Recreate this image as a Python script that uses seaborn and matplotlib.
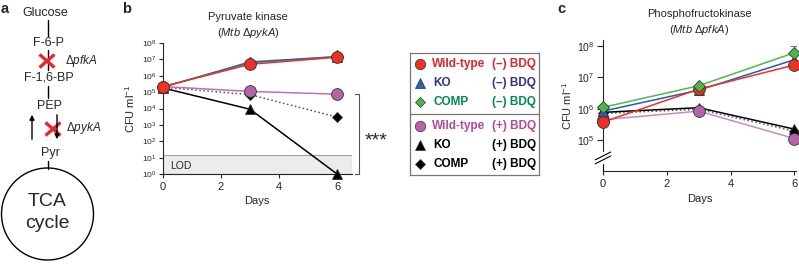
import matplotlib
matplotlib.use("Agg")
import matplotlib.pyplot as plt
import matplotlib.ticker as mticker
from matplotlib.patches import Circle, Rectangle
import seaborn as sns

sns.set_style("ticks")
plt.rcParams['font.family'] = ['Liberation Sans', 'DejaVu Sans']
plt.rcParams['mathtext.fontset'] = 'custom'
plt.rcParams['mathtext.rm'] = 'Liberation Sans'
plt.rcParams['mathtext.it'] = 'Liberation Sans:italic'

# data
days = [0, 3, 6]

# panel b: pyruvate kinase (Mtb dpykA), CFU/ml
b_wt_minus = [2.2e5, 5.0e6, 1.35e7]
b_ko_minus = [2.0e5, 7.0e6, 1.45e7]
b_comp_minus = [2.1e5, 6.0e6, 1.5e7]
b_wt_plus = [2.2e5, 1.1e5, 7.5e4]
b_ko_plus = [1.8e5, 9.0e3, 1.0e0]
b_comp_plus = [2.0e5, 7.0e4, 3.0e3]
lod = 15

# panel c: phosphofructokinase (Mtb dpfkA), CFU/ml
c_wt_minus = [3.7e5, 4.2e6, 2.5e7]
c_ko_minus = [8.3e5, 3.9e6, 3.7e7]
c_comp_minus = [1.1e6, 5.4e6, 6.2e7]
c_comp_minus_err = [0, 0, 3.8e7]
c_wt_plus = [4.4e5, 8.3e5, 1.1e5]
c_ko_plus = [7.6e5, 1.07e6, 2.2e5]
c_comp_plus = [7.0e5, 9.5e5, 1.9e5]

RED, BLUE, GREEN, PURPLE = '#ee3124', '#2a62b3', '#4cb848', '#b565a7'
RED_T, BLUE_T, GREEN_T, PURPLE_T = '#d9252b', '#2e3192', '#00894a', '#b5479b'

W, H = 799, 264
fig = plt.figure(figsize=(W / 100, H / 100), dpi=100)


def px_axes(x0, y0, x1, y1):
    # axes from pixel box (top-left origin)
    return fig.add_axes([x0 / W, 1 - y1 / H, (x1 - x0) / W, (y1 - y0) / H])


# ---------- panel a: pathway sketch ----------
axa = fig.add_axes([0, 0, 110 / W, 1])
axa.set_xlim(0, 110)
axa.set_ylim(H, 0)
axa.axis('off')
fs_a = 9
axa.text(0.5, 9, 'a', fontsize=10.5, fontweight='bold', va='center')
axa.text(45, 13, 'Glucose', fontsize=fs_a, ha='center', va='center')
axa.plot([48, 48], [20, 36], color='k', lw=1)
axa.text(49, 43, 'F-6-P', fontsize=fs_a, ha='center', va='center')
axa.plot([48, 48], [50, 70], color='k', lw=1)
axa.text(49, 78, 'F-1,6-BP', fontsize=fs_a, ha='center', va='center')
axa.plot([48, 48], [86, 98], color='k', lw=1)
axa.text(50, 106, 'PEP', fontsize=fs_a, ha='center', va='center')
axa.annotate('', xy=(32, 112), xytext=(32, 142),
             arrowprops=dict(arrowstyle='-|>', color='k', lw=1, mutation_scale=7))
axa.annotate('', xy=(57, 142), xytext=(57, 112),
             arrowprops=dict(arrowstyle='-|>', color='k', lw=1, mutation_scale=7))
axa.text(50, 153, 'Pyr', fontsize=fs_a, ha='center', va='center')
axa.plot([48, 48], [161, 169], color='k', lw=1)
for cx, cy in [(47, 61), (53, 129)]:
    axa.plot([cx - 7.5, cx + 7.5], [cy - 6.5, cy + 6.5], color='#e8262b', lw=2.4, solid_capstyle='butt')
    axa.plot([cx - 7.5, cx + 7.5], [cy + 6.5, cy - 6.5], color='#e8262b', lw=2.4, solid_capstyle='butt')
axa.text(65, 61, r'$\Delta$$\it{pfkA}$', fontsize=8.5, va='center')
axa.text(66, 128, r'$\Delta$$\it{pykA}$', fontsize=8.5, va='center')
axa.add_patch(Circle((47.5, 214), 46, fill=False, ec='k', lw=1))
axa.text(47.5, 201, 'TCA', fontsize=14, ha='center', va='center')
axa.text(47.5, 224, 'cycle', fontsize=14, ha='center', va='center')


def series(ax, y, color, marker, ms, ls='-', lc=None, z=2):
    sns.lineplot(x=days, y=y, ax=ax, color=lc or color, marker=marker, markersize=ms,
                 markerfacecolor=color, markeredgecolor='#333333', markeredgewidth=0.6,
                 linestyle=ls, lw=1.1, clip_on=False, zorder=z)


# ---------- panel b ----------
axb = px_axes(163, 43, 351.6, 174)
axb.set_yscale('log')
axb.set_ylim(1, 1e8)
axb.set_xlim(0, 6.5)
axb.add_patch(Rectangle((0, 1), 6.5, lod - 1, fc='#ececec', ec='#a0a0a0', lw=0.8, zorder=1))
axb.text(0.25, 3.2, 'LOD', fontsize=7.5, va='center')
series(axb, b_comp_plus, 'k', 'D', 5.5, ls=':', lc='#555555', z=3)
series(axb, b_ko_plus, 'k', '^', 7.5, z=3)
series(axb, b_wt_plus, PURPLE, 'o', 8.5, lc='#c070b5', z=4)
series(axb, b_comp_minus, GREEN, 'D', 6, lc=GREEN, z=5)
series(axb, b_ko_minus, BLUE, '^', 7.5, z=6)
series(axb, b_wt_minus, RED, 'o', 8.5, z=7)
axb.set_yticks([10.0 ** k for k in range(9)])
axb.yaxis.set_minor_locator(mticker.NullLocator())
axb.set_xticks([0, 2, 4, 6])
axb.tick_params(axis='y', labelsize=6, length=3, width=0.8, pad=1.5)
axb.tick_params(axis='x', labelsize=8, length=3, width=0.8, pad=3)
sns.despine(ax=axb)
axb.spines['bottom'].set_bounds(0, 6.5)
axb.set_xlabel('Days', fontsize=8, labelpad=3)
axb.set_ylabel('CFU ml$^{-1}$', fontsize=8, labelpad=4)
axb.set_title('Pyruvate kinase\n' + r'($\it{Mtb}$ $\it{\Delta pykA}$)', fontsize=8, pad=5,
              linespacing=1.45, x=0.45)
# significance bracket
axb.plot([6.62, 6.75, 6.75, 6.62], [7.3e4, 7.3e4, 1, 1], color='#555555', lw=0.8, clip_on=False)
fig.text(376 / W, 1 - 141 / H, '***', fontsize=14, ha='center', va='center')
fig.text(122 / W, 1 - 9 / H, 'b', fontsize=10.5, fontweight='bold', va='center')

# ---------- legend box ----------
axl = px_axes(410, 53, 539, 175)
axl.set_xlim(410, 539)
axl.set_ylim(175, 53)
axl.set_xticks([])
axl.set_yticks([])
for s in axl.spines.values():
    s.set_color('#777777')
    s.set_linewidth(0.9)
axl.axhline(114, color='#777777', lw=0.9)
rows = [
    ('Wild-type', '(–) BDQ', 'o', RED, RED_T, 64),
    ('KO', '(–) BDQ', '^', BLUE, BLUE_T, 83.5),
    ('COMP', '(–) BDQ', 'D', GREEN, GREEN_T, 102.5),
    ('Wild-type', '(+) BDQ', 'o', PURPLE, PURPLE_T, 126),
    ('KO', '(+) BDQ', '^', 'k', 'k', 145.5),
    ('COMP', '(+) BDQ', 'D', 'k', 'k', 164.5),
]
for name, bdq, mk, mc, tc, yy in rows:
    ms = 7.5 if mk != 'D' else 5.5
    axl.plot([420], [yy], marker=mk, ms=ms, mfc=mc, mec='#333333', mew=0.5, ls='none')
    axl.text(431.5 if name == 'Wild-type' else 433.5, yy, name, color=tc, fontsize=8.5,
             fontweight='bold', va='center')
    axl.text(491.5, yy, bdq, color=tc, fontsize=8.5, fontweight='bold', va='center')

# ---------- panel c ----------
axc = px_axes(603, 40, 796, 171)
axc.set_yscale('log')
axc.set_ylim(1e4, 10 ** 8.2)
axc.set_xlim(0, 6.05)
axc.errorbar(days, c_comp_minus, yerr=[[0, 0, 0], c_comp_minus_err], fmt='none',
             ecolor='#777777', elinewidth=0.8, capsize=3, capthick=0.8, zorder=1)
series(axc, c_comp_plus, 'k', 'D', 5.5, ls=':', lc='#555555', z=2)
series(axc, c_ko_plus, 'k', '^', 7.5, z=3)
series(axc, c_wt_plus, PURPLE, 'o', 8.5, lc='#c48dc0', z=4)
series(axc, c_ko_minus, BLUE, '^', 7.5, lc='#1f5fb5', z=5)
series(axc, c_wt_minus, RED, 'o', 8.5, z=6)
series(axc, c_comp_minus, GREEN, 'D', 6, lc='#4cbb4a', z=7)
axc.set_yticks([1e5, 1e6, 1e7, 1e8])
axc.yaxis.set_minor_locator(mticker.NullLocator())
axc.set_xticks([0, 2, 4, 6])
axc.tick_params(axis='y', labelsize=7.5, length=4, width=0.8, pad=2)
axc.tick_params(axis='x', labelsize=8, length=3, width=0.8, pad=3)
sns.despine(ax=axc)
axc.spines['left'].set_bounds(10 ** (4 + 0.15 * 4.2), 10 ** 8.2)
# axis break marks
for yb in [0.085, 0.115]:
    axc.plot([-0.04, 0.04], [yb - 0.03, yb + 0.03], transform=axc.transAxes,
             color='k', lw=0.8, clip_on=False)
axc.plot([0, 0], [0, 0.05], transform=axc.transAxes, color='k', lw=0.8, clip_on=False)
axc.set_xlabel('Days', fontsize=8, labelpad=3)
axc.set_ylabel('CFU ml$^{-1}$', fontsize=8, labelpad=2)
axc.set_title('Phosphofructokinase\n' + r'($\it{Mtb}$ $\it{\Delta pfkA}$)', fontsize=8, pad=5,
              linespacing=1.45)
fig.text(557 / W, 1 - 9 / H, 'c', fontsize=10.5, fontweight='bold', va='center')

fig.savefig('out.png', dpi=100)
